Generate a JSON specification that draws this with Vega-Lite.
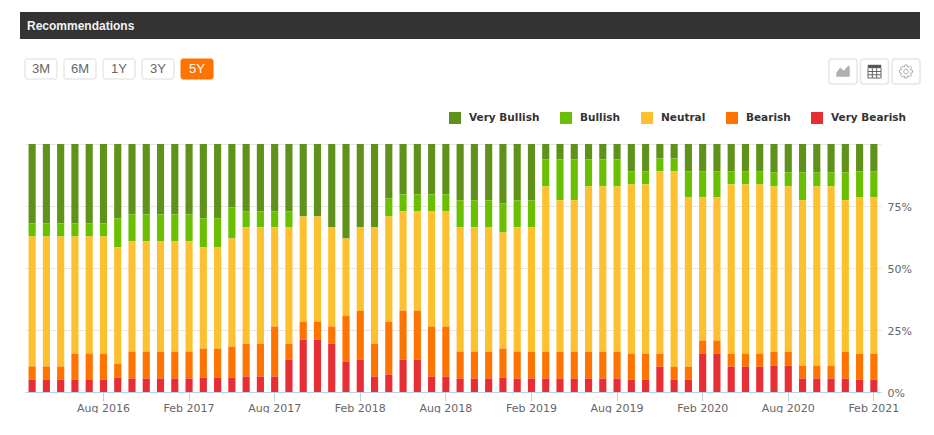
{"$schema":"https://vega.github.io/schema/vega-lite/v6.json","padding":{"left":20,"top":12,"right":14,"bottom":0},"background":"white","bounds":"flush","spacing":20,"config":{"view":{"stroke":null},"font":"DejaVu Sans"},"vconcat":[
{"width":900,"height":27,"view":{"fill":"#333333","stroke":null},"data":{"values":[{"title":"Recommendations"}]},"mark":{"type":"text","align":"left","font":"Liberation Sans","fontSize":12,"fontWeight":"bold","color":"#f2f2f2"},"encoding":{"x":{"field":"title","type":"ordinal","scale":{"type":"point","range":[7,7]},"axis":null},"text":{"field":"title"}}},
{"width":900,"height":65,"layer":[
{"data":{"values":[{"label":"3M","state":"off"},{"label":"6M","state":"off"},{"label":"1Y","state":"off"},{"label":"3Y","state":"off"},{"label":"5Y","state":"on"}]},"layer":[
{"mark":{"type":"bar","cornerRadius":2,"strokeWidth":1},"encoding":{"x":{"field":"label","type":"nominal","sort":null,"scale":{"range":[5,193],"paddingInner":0.18,"paddingOuter":0},"axis":null},"y":{"datum":"row","type":"nominal","scale":{"range":[0,20],"paddingInner":0,"paddingOuter":0},"axis":null},"fill":{"field":"state","type":"nominal","scale":{"domain":["off","on"],"range":["#ffffff","#ff7300"]},"legend":null},"stroke":{"field":"state","type":"nominal","scale":{"domain":["off","on"],"range":["#dddddd","#ff7300"]},"legend":null}}},
{"mark":{"type":"text","font":"Liberation Sans","fontSize":13},"encoding":{"x":{"field":"label","type":"nominal","sort":null,"axis":null},"y":{"datum":"row","type":"nominal","axis":null},"text":{"field":"label"},"color":{"field":"state","type":"nominal","scale":{"domain":["off","on"],"range":["#666666","#ffffff"]},"legend":null}}}]},
{"data":{"values":[{"button":"chart"},{"button":"table"},{"button":"gear"}]},"layer":[
{"mark":{"type":"bar","cornerRadius":3,"fill":"#ffffff","stroke":"#e6e6e6","strokeWidth":1.5},"encoding":{"x":{"field":"button","type":"nominal","sort":null,"scale":{"range":[809,900],"paddingInner":0.11,"paddingOuter":0},"axis":null},"y":{"datum":"row","type":"nominal","scale":{"range":[0,25],"paddingInner":0,"paddingOuter":0},"axis":null}}},
{"mark":{"type":"point","filled":true,"opacity":1,"strokeWidth":0},"transform":[{"filter":"datum.button!='gear'"}],"encoding":{"x":{"field":"button","type":"nominal","sort":null,"axis":null},"y":{"datum":"row","type":"nominal","axis":null},"size":{"value":180},"shape":{"field":"button","type":"nominal","legend":null,"scale":{"domain":["chart","table"],"range":["M-1 0.8L-1 0.2L-0.4 -0.6L0.1 -0.1L0.8 -0.9L1 -0.7L1 0.8Z","M-1 -1H1V-0.5H-1Z"]}},"color":{"field":"button","type":"nominal","legend":null,"scale":{"domain":["chart","table"],"range":["#b0b0b0","#555555"]}}}},
{"mark":{"type":"point","filled":false,"opacity":1,"strokeWidth":1},"transform":[{"filter":"datum.button!='chart'"}],"encoding":{"x":{"field":"button","type":"nominal","sort":null,"axis":null},"y":{"datum":"row","type":"nominal","axis":null},"size":{"value":170},"shape":{"field":"button","type":"nominal","legend":null,"scale":{"domain":["table","gear"],"range":["M-1 -0.5V1H1V-0.5M-1 0H1M-1 0.5H1M-0.33 -0.5V1M0.33 -0.5V1","M-0.17 -1L0.17 -1L0.276 -0.665L0.587 -0.827L0.827 -0.587L0.665 -0.276L1 -0.17L1 0.17L0.665 0.276L0.827 0.587L0.587 0.827L0.276 0.665L0.17 1L-0.17 1L-0.276 0.665L-0.587 0.827L-0.827 0.587L-0.665 0.276L-1 0.17L-1 -0.17L-0.665 -0.276L-0.827 -0.587L-0.587 -0.827L-0.276 -0.665ZM0.35 0A0.35 0.35 0 1 1 -0.35 0A0.35 0.35 0 1 1 0.35 0Z"]}},"color":{"field":"button","type":"nominal","legend":null,"scale":{"domain":["table","gear"],"range":["#666666","#aaaaaa"]}}}}],"resolve":{"scale":{"shape":"independent","color":"independent"}}}
],"resolve":{"scale":{"x":"independent","y":"independent","fill":"independent","stroke":"independent","color":"independent","shape":"independent"}}},
{"bounds":"flush","spacing":0,"hconcat":[
{"width":5,"height":248,"data":{"values":[{"blank":""}]},"mark":{"type":"text"},"encoding":{"text":{"field":"blank"}}},
{"width":856,"height":248,"data":{"values":[
{"m":"Mar 2016","vbe":5,"be":5.3,"n":52.4,"b":5.3,"vb":32},
{"m":"Apr 2016","vbe":5,"be":5.3,"n":52.4,"b":5.3,"vb":32},
{"m":"May 2016","vbe":5,"be":5.3,"n":52.4,"b":5.3,"vb":32},
{"m":"Jun 2016","vbe":5,"be":10.5,"n":47.2,"b":5.3,"vb":32},
{"m":"Jul 2016","vbe":5,"be":10.5,"n":47.2,"b":5.3,"vb":32},
{"m":"Aug 2016","vbe":5,"be":10.5,"n":47.2,"b":5.3,"vb":32},
{"m":"Sep 2016","vbe":5.8,"be":5.6,"n":46.9,"b":11.7,"vb":30},
{"m":"Oct 2016","vbe":5.4,"be":10.9,"n":44.4,"b":10.9,"vb":28.4},
{"m":"Nov 2016","vbe":5.4,"be":10.9,"n":44.4,"b":10.9,"vb":28.4},
{"m":"Dec 2016","vbe":5.4,"be":10.9,"n":44.4,"b":10.9,"vb":28.4},
{"m":"Jan 2017","vbe":5.4,"be":10.9,"n":44.4,"b":10.9,"vb":28.4},
{"m":"Feb 2017","vbe":5.4,"be":10.9,"n":44.4,"b":10.9,"vb":28.4},
{"m":"Mar 2017","vbe":5.8,"be":11.7,"n":40.8,"b":11.7,"vb":30},
{"m":"Apr 2017","vbe":5.8,"be":11.7,"n":40.8,"b":11.7,"vb":30},
{"m":"May 2017","vbe":5.8,"be":12.5,"n":43.6,"b":12.5,"vb":25.6},
{"m":"Jun 2017","vbe":6.2,"be":13.3,"n":46.9,"b":6.4,"vb":27.2},
{"m":"Jul 2017","vbe":6.2,"be":13.3,"n":46.9,"b":6.4,"vb":27.2},
{"m":"Aug 2017","vbe":6.2,"be":20.2,"n":40,"b":6.4,"vb":27.2},
{"m":"Sep 2017","vbe":13,"be":6.5,"n":46.9,"b":6.4,"vb":27.2},
{"m":"Oct 2017","vbe":21.1,"be":7.3,"n":42.4,"b":0,"vb":29.2},
{"m":"Nov 2017","vbe":21.1,"be":7.3,"n":42.4,"b":0,"vb":29.2},
{"m":"Dec 2017","vbe":19.5,"be":6.9,"n":40,"b":0,"vb":33.6},
{"m":"Jan 2018","vbe":12.2,"be":18.6,"n":31.1,"b":0,"vb":38.1},
{"m":"Feb 2018","vbe":13,"be":19.8,"n":33.6,"b":0,"vb":33.6},
{"m":"Mar 2018","vbe":6.2,"be":13.3,"n":46.9,"b":0,"vb":33.6},
{"m":"Apr 2018","vbe":7,"be":21.4,"n":42.4,"b":7.2,"vb":22},
{"m":"May 2018","vbe":13,"be":19.8,"n":40,"b":6.9,"vb":20.3},
{"m":"Jun 2018","vbe":13,"be":19.8,"n":40,"b":6.9,"vb":20.3},
{"m":"Jul 2018","vbe":6.2,"be":20.2,"n":46.4,"b":6.9,"vb":20.3},
{"m":"Aug 2018","vbe":6.2,"be":20.2,"n":46.4,"b":6.9,"vb":20.3},
{"m":"Sep 2018","vbe":5.4,"be":10.9,"n":50.1,"b":10.9,"vb":22.7},
{"m":"Oct 2018","vbe":5.4,"be":10.9,"n":50.1,"b":10.9,"vb":22.7},
{"m":"Nov 2018","vbe":5.4,"be":10.9,"n":50.1,"b":10.9,"vb":22.7},
{"m":"Dec 2018","vbe":5.8,"be":11.7,"n":46.8,"b":11.7,"vb":24},
{"m":"Jan 2019","vbe":5.4,"be":10.9,"n":50.1,"b":10.9,"vb":22.7},
{"m":"Feb 2019","vbe":5.4,"be":10.9,"n":50.1,"b":10.9,"vb":22.7},
{"m":"Mar 2019","vbe":5.4,"be":10.9,"n":66.6,"b":10.9,"vb":6.2},
{"m":"Apr 2019","vbe":5.4,"be":10.9,"n":61,"b":16.5,"vb":6.2},
{"m":"May 2019","vbe":5.4,"be":10.9,"n":61,"b":16.5,"vb":6.2},
{"m":"Jun 2019","vbe":5.4,"be":10.9,"n":66.6,"b":10.9,"vb":6.2},
{"m":"Jul 2019","vbe":5.4,"be":10.9,"n":66.6,"b":10.9,"vb":6.2},
{"m":"Aug 2019","vbe":5.4,"be":10.9,"n":66.6,"b":10.9,"vb":6.2},
{"m":"Sep 2019","vbe":5,"be":10.5,"n":68.2,"b":5.3,"vb":11},
{"m":"Oct 2019","vbe":5,"be":10.5,"n":68.2,"b":5.3,"vb":11},
{"m":"Nov 2019","vbe":10.2,"be":5.3,"n":73.5,"b":5.2,"vb":5.8},
{"m":"Dec 2019","vbe":5,"be":5.2,"n":78.8,"b":5.2,"vb":5.8},
{"m":"Jan 2020","vbe":5,"be":5.2,"n":68.3,"b":10.5,"vb":11},
{"m":"Feb 2020","vbe":15.5,"be":5.2,"n":57.8,"b":10.5,"vb":11},
{"m":"Mar 2020","vbe":15.5,"be":5.2,"n":57.8,"b":10.5,"vb":11},
{"m":"Apr 2020","vbe":10.2,"be":5.3,"n":68.2,"b":5.3,"vb":11},
{"m":"May 2020","vbe":10.2,"be":5.3,"n":68.2,"b":5.3,"vb":11},
{"m":"Jun 2020","vbe":10.2,"be":5.3,"n":68.2,"b":5.3,"vb":11},
{"m":"Jul 2020","vbe":10.6,"be":5.7,"n":66.6,"b":5.7,"vb":11.4},
{"m":"Aug 2020","vbe":10.6,"be":5.7,"n":66.6,"b":5.7,"vb":11.4},
{"m":"Sep 2020","vbe":5.4,"be":5.2,"n":66.7,"b":11.3,"vb":11.4},
{"m":"Oct 2020","vbe":5.4,"be":5.2,"n":72.3,"b":5.7,"vb":11.4},
{"m":"Nov 2020","vbe":5.4,"be":5.2,"n":72.3,"b":5.7,"vb":11.4},
{"m":"Dec 2020","vbe":5.4,"be":10.9,"n":61,"b":11.3,"vb":11.4},
{"m":"Jan 2021","vbe":5,"be":10.5,"n":63,"b":10.5,"vb":11},
{"m":"Feb 2021","vbe":5,"be":10.5,"n":63,"b":10.5,"vb":11}
]},
"transform":[{"fold":["vb","b","n","be","vbe"],"as":["key","share"]},{"lookup":"key","from":{"data":{"values":[{"key":"vbe","series":"Very Bearish","rank":1},{"key":"be","series":"Bearish","rank":2},{"key":"n","series":"Neutral","rank":3},{"key":"b","series":"Bullish","rank":4},{"key":"vb","series":"Very Bullish","rank":5}]},"key":"key","fields":["series","rank"]}}],
"mark":{"type":"bar"},
"encoding":{
"x":{"field":"m","type":"ordinal","sort":null,"scale":{"type":"band","paddingInner":0.5,"paddingOuter":0.25},"axis":{"title":null,"values":["Aug 2016","Feb 2017","Aug 2017","Feb 2018","Aug 2018","Feb 2019","Aug 2019","Feb 2020","Aug 2020","Feb 2021"],"labelAngle":0,"labelOverlap":false,"labelFontSize":11,"labelColor":"#666666","labelPadding":1,"tickColor":"#c0d0e0","tickSize":9,"domainColor":"#c0d0e0","grid":false}},
"y":{"field":"share","type":"quantitative","stack":true,"scale":{"domain":[0,100],"nice":false},"axis":{"title":null,"orient":"right","values":[0,25,50,75,100],"labelExpr":"datum.value==100?'':datum.value+'%'","labelFontSize":11,"labelColor":"#666666","labelPadding":6,"labelOffset":1,"ticks":false,"domain":false,"grid":true,"gridColor":"#e6e6e6","gridWidth":1}},
"color":{"field":"series","type":"nominal","scale":{"domain":["Very Bullish","Bullish","Neutral","Bearish","Very Bearish"],"range":["#5f911b","#6abf00","#fdc130","#ff7300","#e62e34"]},"legend":{"title":null,"orient":"none","legendX":429,"legendY":100,"direction":"horizontal","columns":5,"symbolType":"square","symbolSize":144,"symbolStrokeWidth":0,"labelFont":"DejaVu Sans","labelFontSize":10.5,"labelFontWeight":"bold","labelColor":"#333333","labelOffset":8,"columnPadding":20,"padding":0}},
"order":{"field":"rank","type":"quantitative"}
}}
]}
]}
